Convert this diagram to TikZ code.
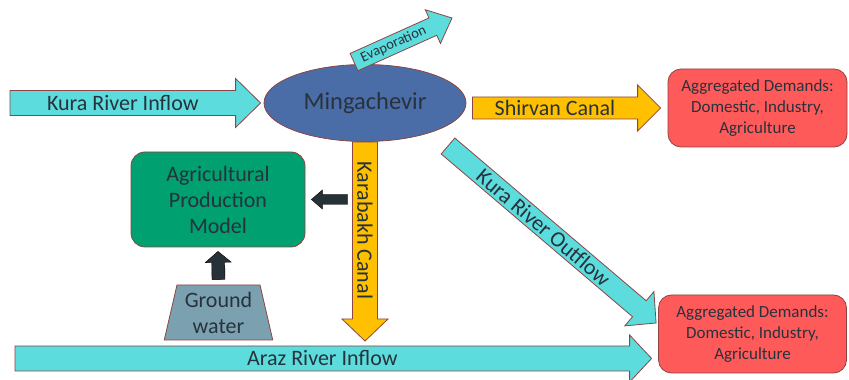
\documentclass[tikz,border=0pt]{standalone}
\usepackage{fontspec}
\setmainfont{Carlito}
\usetikzlibrary{calc,shapes.geometric}

\definecolor{flowcyan}{HTML}{5CDCDC}
\definecolor{canalorange}{HTML}{FFC000}
\definecolor{resblue}{HTML}{4A6DA7}
\definecolor{demred}{HTML}{FF5A5A}
\definecolor{agrigreen}{HTML}{00A070}
\definecolor{gwgrey}{HTML}{7BA1B1}
\definecolor{darkslate}{HTML}{263238}
\definecolor{edgebrown}{HTML}{8B4545}
\definecolor{txtcol}{HTML}{27323C}

% block arrow: style, from, to, half body, half head, head length, label style, label
\newcommand\flowarrow[8]{%
\coordinate (hb) at ($(#3)!#6!(#2)$);
\draw[#1] ($(#2)!#4!90:(#3)$) -- ($(hb)!#4!90:(#3)$) -- ($(hb)!#5!90:(#3)$) -- (#3)
  -- ($(hb)!#5!-90:(#3)$) -- ($(hb)!#4!-90:(#3)$) -- ($(#2)!#4!-90:(#3)$) -- cycle;
\path (#2) -- (hb) node[midway,sloped,#7] {#8};}

\begin{document}
\begin{tikzpicture}[x=1pt,y=1pt,
  flow/.style={fill=flowcyan,draw=edgebrown,line width=0.8pt},
  canal/.style={fill=canalorange,draw=edgebrown,line width=0.8pt},
  push/.style={fill=darkslate},
  lbl/.style={inner sep=0pt,text=txtcol,font=\fontsize{22}{26}\selectfont},
  demand/.style={rectangle,rounded corners=13pt,fill=demred,draw=edgebrown,line width=0.8pt,
    minimum height=78pt,inner sep=0pt,align=center,text=txtcol,font=\fontsize{17}{21}\selectfont}]
\useasboundingbox (0,0) rectangle (849,380);

\node[ellipse,fill=resblue,draw=edgebrown,line width=0.8pt,minimum width=202pt,minimum height=77pt,
  inner sep=0pt,text=txtcol,font=\fontsize{24.5}{28}\selectfont] (res) at (365,277) {Mingachevir};
\node[demand,minimum width=179pt] (dem1) at (757.5,272) {Aggregated Demands:\\Domestic, Industry,\\Agriculture};
\node[demand,minimum width=188pt] (dem2) at (752.5,46) {Aggregated Demands:\\Domestic, Industry,\\Agriculture};
\node[rectangle,rounded corners=14pt,fill=agrigreen,draw=edgebrown,line width=0.8pt,minimum width=174pt,
  minimum height=95pt,inner sep=0pt,align=center,lbl] (agri) at (218,180.5) {Agricultural\\Production\\Model};
\node[trapezium,trapezium stretches=true,trapezium left angle=76,trapezium right angle=76,fill=gwgrey,
  draw=edgebrown,line width=0.8pt,minimum width=109pt,minimum height=55pt,inner sep=0pt,align=center,lbl]
  (gw) at (218.5,67.5) {Ground\\water};

\coordinate (kuraS) at (10,277);
\coordinate (kuraE) at ($(res.west)+(-3,0)$);
\coordinate (evapS) at ($(res.north)+(-11,2)$);
\coordinate (evapE) at (452,362);
\coordinate (shirS) at ($(res.east |- dem1.west)+(6,0)$);
\coordinate (shirE) at ($(dem1.west)+(-7,0)$);
\coordinate (arazS) at (15,21.5);
\coordinate (arazE) at ($(dem2.west |- arazS)+(-6.5,0)$);
\coordinate (karE) at ($(res.south |- arazS)+(0,17.5)$);
\coordinate (outS) at (448,234);
\coordinate (outE) at ($(dem2.west)+(-2,11)$);
\coordinate (pushS) at ($(res.south |- agri.east)+(-17.5,0)$);
\coordinate (pushE) at ($(agri.east)+(6,0)$);
\coordinate (gwS) at ($(gw.north)+(0,5)$);
\coordinate (gwE) at ($(agri.south)+(0,-4)$);

\flowarrow{flow}{kuraS}{kuraE}{12.5pt}{24.5pt}{25pt}{lbl}{Kura River Inflow}
\flowarrow{flow}{evapS}{evapE}{9.5pt}{18.5pt}{21pt}{lbl,font=\fontsize{14.5}{17}\selectfont}{Evaporation}
\flowarrow{canal}{shirS}{shirE}{11pt}{23pt}{23pt}{lbl}{Shirvan Canal}
\flowarrow{canal}{res.south}{karE}{12.5pt}{23pt}{22pt}{lbl}{Karabakh Canal}
\flowarrow{flow}{outS}{outE}{10.5pt}{22.5pt}{22pt}{lbl}{Kura River Outflow}
\flowarrow{flow}{arazS}{arazE}{12.5pt}{23.5pt}{22pt}{lbl}{Araz River Inflow}
\flowarrow{push}{pushS}{pushE}{5pt}{9.5pt}{11pt}{lbl}{}
\flowarrow{push}{gwS}{gwE}{6.5pt}{13pt}{11pt}{lbl}{}
\end{tikzpicture}
\end{document}
